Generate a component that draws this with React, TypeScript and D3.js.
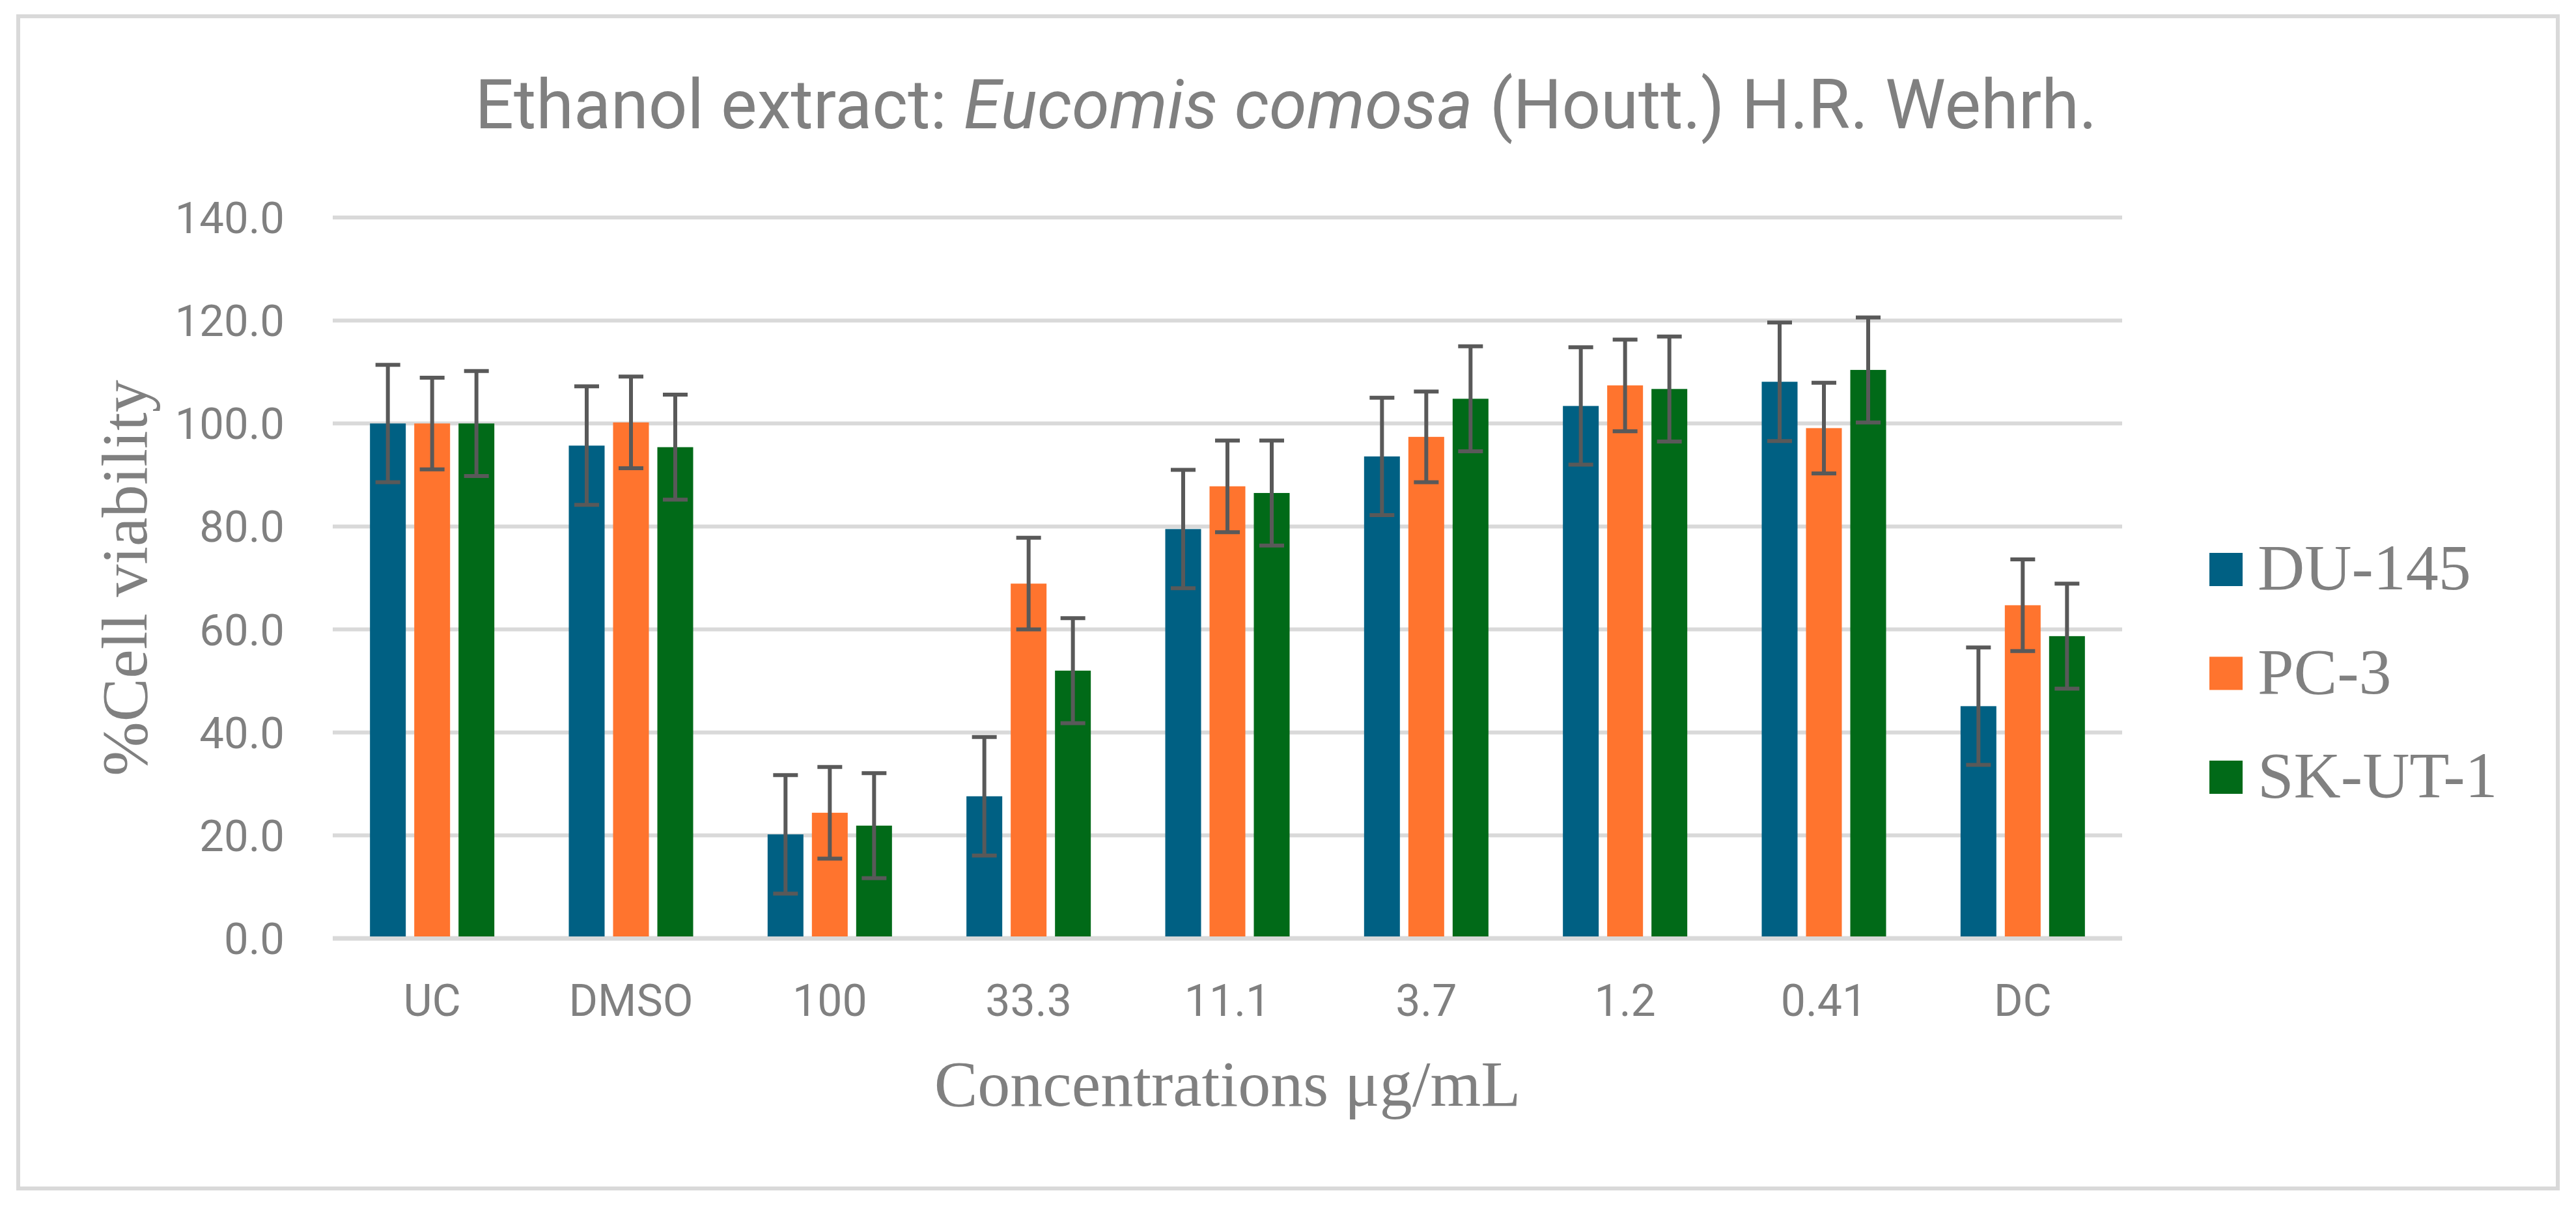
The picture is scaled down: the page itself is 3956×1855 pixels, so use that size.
import React from "react";
import * as d3 from "d3";

const categories = ["UC", "DMSO", "100", "33.3", "11.1", "3.7", "1.2", "0.41", "DC"];
const seriesNames = ["DU-145", "PC-3", "SK-UT-1"];
const du145 = [100.0, 95.7, 20.2, 27.6, 79.5, 93.6, 103.4, 108.1, 45.1];
const pc3 = [100.0, 100.2, 24.4, 68.9, 87.8, 97.4, 107.4, 99.1, 64.7];
const skut1 = [100.0, 95.4, 21.9, 52.0, 86.5, 104.8, 106.7, 110.4, 58.7];
const du145Err = [11.4, 11.5, 11.5, 11.5, 11.5, 11.4, 11.4, 11.5, 11.4];
const pc3Err = [8.9, 8.9, 8.9, 8.9, 8.9, 8.8, 8.9, 8.8, 8.9];
const skut1Err = [10.2, 10.2, 10.2, 10.2, 10.2, 10.2, 10.2, 10.2, 10.2];
const yTicks = [0, 20, 40, 60, 80, 100, 120, 140];
const colors = ["#006083", "#FF742E", "#016A18"];

const W = 3956;
const H = 1855;
const plot = { left: 511, right: 3259, top: 334, bottom: 1441 };
const gray = "#808080";
const sans = "Roboto, 'Liberation Sans', Arial, sans-serif";
const serif = "'Liberation Serif', 'Times New Roman', serif";

export default function App() {
  const values = [du145, pc3, skut1];
  const errs = [du145Err, pc3Err, skut1Err];
  const step = (plot.right - plot.left) / categories.length;
  const groupW = 191;
  const p0 = 1 - groupW / step;
  const x0 = d3
    .scaleBand<string>()
    .domain(categories)
    .range([plot.left, plot.right])
    .paddingInner(p0)
    .paddingOuter(p0 / 2);
  const x1 = d3
    .scaleBand<string>()
    .domain(seriesNames)
    .range([0, x0.bandwidth()])
    .paddingInner(13 / 68)
    .paddingOuter(0);
  const y = d3.scaleLinear().domain([0, 140]).range([plot.bottom, plot.top]);

  return (
    <svg
      width={W}
      height={H}
      viewBox={`0 0 ${W} ${H}`}
      style={{ position: "absolute", left: 0, top: 0, background: "#fff" }}
    >
      <rect x={0} y={0} width={W} height={H} fill="#fff" />
      <rect x={28} y={25} width={3900} height={1800} fill="#fff" stroke="#d9d9d9" strokeWidth={6} />
      <text
        x={1975}
        y={197}
        fontFamily={sans}
        fontSize={106}
        fill={gray}
        textAnchor="middle"
        textLength={2491}
        lengthAdjust="spacingAndGlyphs"
      >
        Ethanol extract: <tspan fontStyle="italic">Eucomis comosa</tspan> (Houtt.) H.R. Wehrh.
      </text>
      {yTicks.map((t) => (
        <g key={t}>
          <line
            x1={plot.left}
            x2={plot.right}
            y1={y(t)}
            y2={y(t)}
            stroke="#d9d9d9"
            strokeWidth={t === 0 ? 7 : 6}
          />
          <text
            x={437}
            y={y(t) + 24}
            textAnchor="end"
            fontFamily={sans}
            fontSize={67}
            fill={gray}
          >
            {t.toFixed(1)}
          </text>
        </g>
      ))}
      {categories.map((c, i) => (
        <g key={c}>
          {seriesNames.map((s, j) => {
            const v = values[j][i];
            const e = errs[j][i];
            const bx = (x0(c) as number) + (x1(s) as number);
            const cx = bx + x1.bandwidth() / 2;
            return (
              <g key={s}>
                <rect
                  x={bx}
                  y={y(v)}
                  width={x1.bandwidth()}
                  height={y(0) - y(v) - 3}
                  fill={colors[j]}
                />
                <line x1={cx} x2={cx} y1={y(v + e)} y2={y(v - e)} stroke="#595959" strokeWidth={6} />
                <line x1={cx - 19} x2={cx + 19} y1={y(v + e)} y2={y(v + e)} stroke="#595959" strokeWidth={6} />
                <line x1={cx - 19} x2={cx + 19} y1={y(v - e)} y2={y(v - e)} stroke="#595959" strokeWidth={6} />
              </g>
            );
          })}
          <text
            x={(x0(c) as number) + x0.bandwidth() / 2}
            y={1560}
            textAnchor="middle"
            fontFamily={sans}
            fontSize={68}
            fill={gray}
          >
            {c}
          </text>
        </g>
      ))}
      <text
        x={(plot.left + plot.right) / 2}
        y={1698}
        textAnchor="middle"
        fontFamily={serif}
        fontSize={100}
        fill={gray}
      >
        Concentrations μg/mL
      </text>
      <text
        transform={`translate(225, ${(plot.top + plot.bottom) / 2}) rotate(-90)`}
        textAnchor="middle"
        fontFamily={serif}
        fontSize={100}
        fill={gray}
      >
        %Cell viability
      </text>
      {seriesNames.map((s, j) => (
        <g key={s} transform={`translate(3393, ${849 + j * 159.5})`}>
          <rect x={0} y={0} width={51} height={51} fill={colors[j]} />
          <text x={74} y={56} fontFamily={serif} fontSize={100} fill={gray}>
            {s}
          </text>
        </g>
      ))}
    </svg>
  );
}
